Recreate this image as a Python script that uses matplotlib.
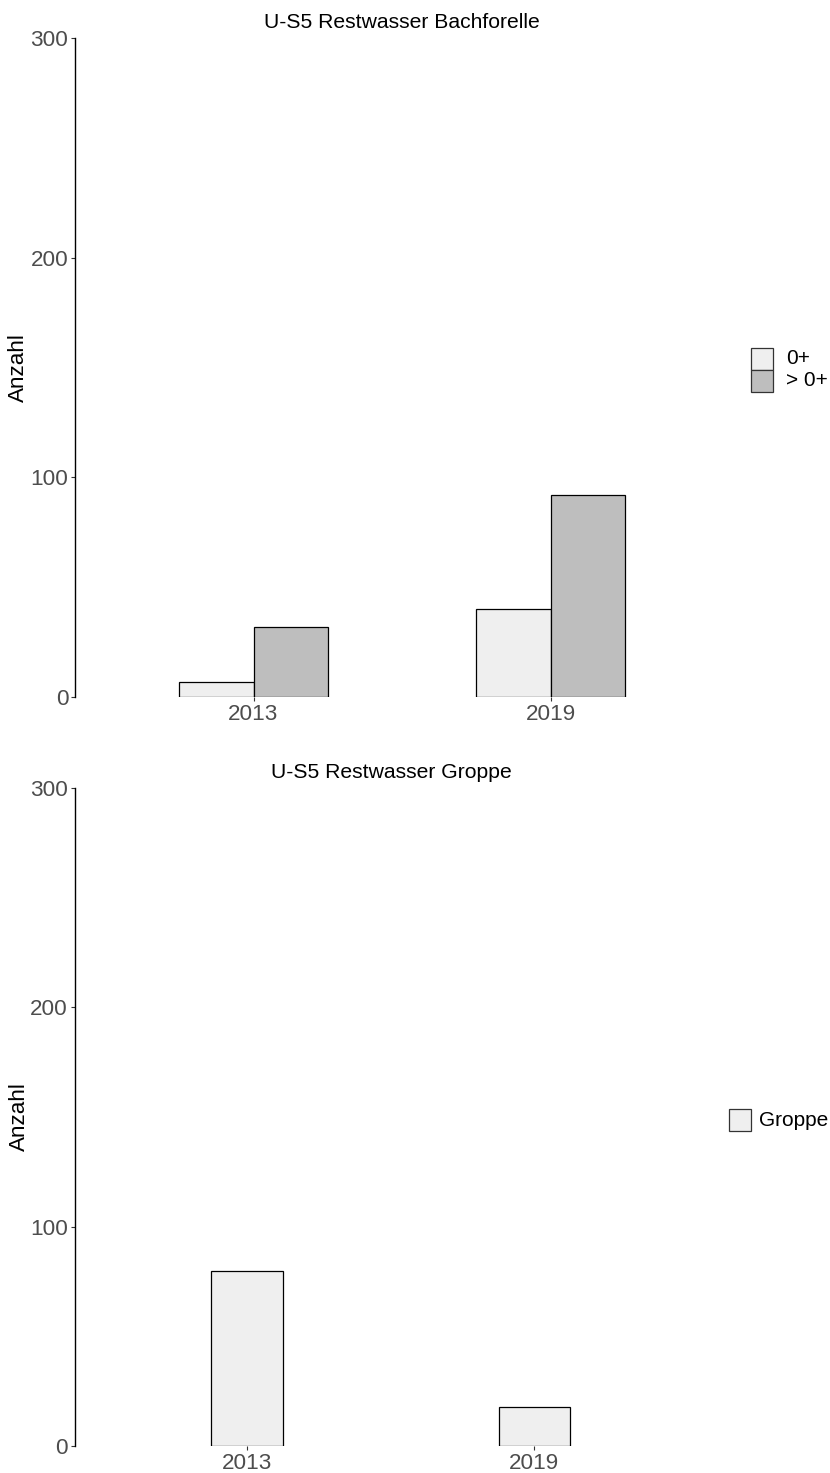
import matplotlib
matplotlib.use("Agg")
import matplotlib.pyplot as plt
from matplotlib.patches import Rectangle
import numpy as np

# ---- data ----
years = ["2013", "2019"]
forelle_groups = ["0+", "> 0+"]
forelle_0plus = [7, 40]
forelle_older = [32, 92]
groppe_label = "Groppe"
groppe_counts = [80, 18]
y_ticks = [0, 100, 200, 300]

title_forelle = "U-S5 Restwasser Bachforelle"
title_groppe = "U-S5 Restwasser Groppe"
y_title = "Anzahl"

# ---- style ----
W, H = 830, 1473
FS_TITLE = 15.2
FS_TICK = 16.2
FS_LAB = 16.2
FS_LEG = 15
plt.rcParams["font.family"] = ["Liberation Sans", "DejaVu Sans"]
light_fill = "#EFEFEF"
dark_fill = "#BEBEBE"
tick_grey = "#4D4D4D"

fig = plt.figure(figsize=(W / 100, H / 100), dpi=100)


def px_axes(x0, x1, ytop, ybot):
    return fig.add_axes([x0 / W, 1 - ybot / H, (x1 - x0) / W, (ybot - ytop) / H])


def style_axes(ax, title):
    ax.set_xlim(-0.6, len(years) - 1 + 0.6)
    ax.set_ylim(0, 300)
    ax.set_yticks(y_ticks)
    ax.set_xticks(np.arange(len(years)))
    ax.set_xticklabels(years)
    for side in ("top", "right", "bottom"):
        ax.spines[side].set_visible(False)
    ax.spines["left"].set_color("black")
    ax.spines["left"].set_linewidth(1.0)
    ax.tick_params(axis="both", length=3, width=0.8, color="#333333",
                   labelcolor=tick_grey, labelsize=FS_TICK, pad=2)
    ax.set_ylabel(y_title, fontsize=FS_LAB, color="black")
    ax.yaxis.set_label_coords(-0.071, 0.5)
    ax.set_title(title, fontsize=FS_TITLE, color="black", pad=7.5)


def draw_legend(x_key, y_top, labels, fills, text_gap, key=22):
    for i, (lab, fc) in enumerate(zip(labels, fills)):
        y0 = y_top + i * key
        fig.patches.append(Rectangle((x_key / W, 1 - (y0 + key) / H), key / W, key / H,
                                     transform=fig.transFigure, facecolor=fc,
                                     edgecolor="#333333", linewidth=0.9))
        fig.text((x_key + key + text_gap) / W, 1 - (y0 + key / 2) / H, lab,
                 fontsize=FS_LEG, va="center", ha="left", color="black")


# ---- top panel: Bachforelle, dodged by age group ----
ax1 = px_axes(75.2, 729.0, 38, 697)
x = np.arange(len(years))
bw = 0.25
ax1.bar(x - bw / 2, forelle_0plus, width=bw, color=light_fill, edgecolor="black", linewidth=0.9)
ax1.bar(x + bw / 2, forelle_older, width=bw, color=dark_fill, edgecolor="black", linewidth=0.9)
style_axes(ax1, title_forelle)
draw_legend(751, 348, forelle_groups, [light_fill, dark_fill], text_gap=13)

# ---- bottom panel: Groppe ----
ax2 = px_axes(75.0, 706.8, 788, 1446)
ax2.bar(x, groppe_counts, width=bw, color=light_fill, edgecolor="black", linewidth=0.9)
style_axes(ax2, title_groppe)
draw_legend(729, 1109, [groppe_label], [light_fill], text_gap=8)

fig.savefig("out.png", dpi=100)
